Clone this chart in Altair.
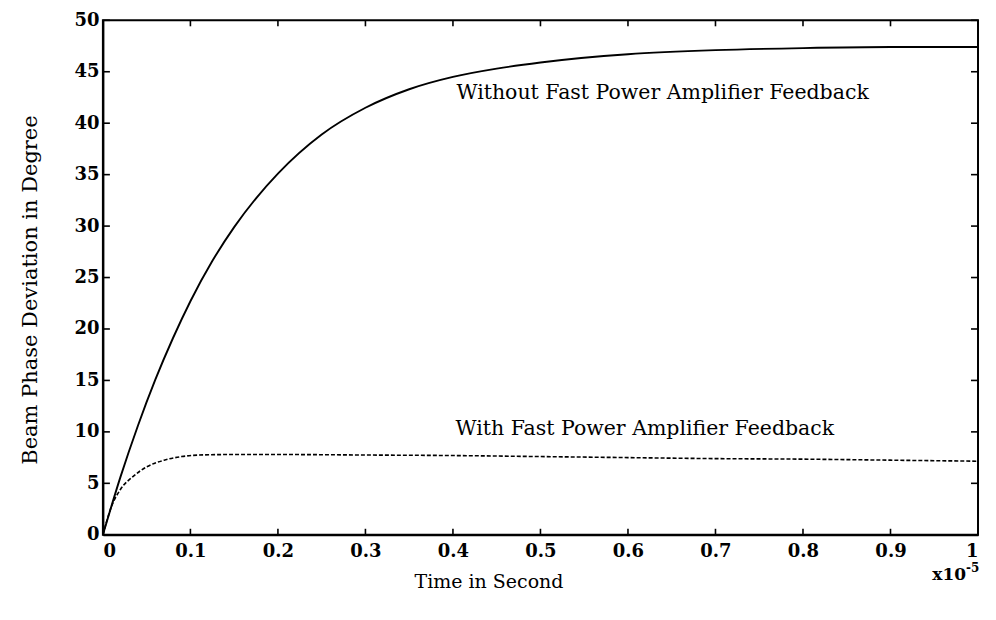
import altair as alt
import pandas as pd

# ---- data ----
t_without = [0, 0.02, 0.04, 0.06, 0.08, 0.10, 0.125, 0.15, 0.175, 0.20, 0.25, 0.30,
             0.35, 0.40, 0.45, 0.50, 0.60, 0.70, 0.80, 0.90, 1.00]
v_without = [0, 5.6, 10.6, 15.1, 19.1, 22.7, 26.6, 29.9, 32.7, 35.1, 38.9, 41.5,
             43.3, 44.5, 45.3, 45.9, 46.7, 47.1, 47.3, 47.4, 47.4]

t_with = [0, 0.01, 0.02, 0.035, 0.05, 0.07, 0.09, 0.11, 0.15, 0.20, 0.30, 0.40,
          0.50, 0.60, 0.70, 0.80, 0.90, 1.00]
v_with = [0, 2.8, 4.4, 5.7, 6.6, 7.25, 7.6, 7.75, 7.8, 7.8, 7.75, 7.7,
          7.6, 7.5, 7.4, 7.35, 7.25, 7.15]

x_ticks = [0, 0.1, 0.2, 0.3, 0.4, 0.5, 0.6, 0.7, 0.8, 0.9, 1.0]
y_ticks = [0, 5, 10, 15, 20, 25, 30, 35, 40, 45, 50]

ann_text = ["Without Fast Power Amplifier Feedback", "With Fast Power Amplifier Feedback"]
ann_t = [0.404, 0.403]
ann_v = [42.9, 10.3]

exp_base = ["x10"]
exp_power = ["-5"]

W, H = 876, 515
SERIF = "DejaVu Serif"

df_without = pd.DataFrame({"t": t_without, "v": v_without})
df_with = pd.DataFrame({"t": t_with, "v": v_with})
df_xt = pd.DataFrame({"t": x_ticks})
df_yt = pd.DataFrame({"v": y_ticks})
df_ann = pd.DataFrame({"t": ann_t, "v": ann_v, "label": ann_text})

xs = alt.Scale(domain=[0, 1], nice=False, zero=False)
ys = alt.Scale(domain=[0, 50], nice=False, zero=False)

X = alt.X("t:Q", scale=xs, axis=alt.Axis(
    values=x_ticks, format=".1~f", title="Time in Second", ticks=False, grid=False,
    domainColor="black", domainWidth=2, labelFont=SERIF, labelFontWeight="bold",
    labelFontSize=18, labelColor="black", labelPadding=8,
    titleFont=SERIF, titleFontWeight="normal", titleFontSize=19, titleColor="black",
    titleX=386, titleY=53, titleAnchor="start", titleAlign="center", titleBaseline="alphabetic"))
Y = alt.Y("v:Q", scale=ys, axis=alt.Axis(
    values=y_ticks, title="Beam Phase Deviation in Degree", ticks=False, grid=False,
    domainColor="black", domainWidth=2, labelFont=SERIF, labelFontWeight="bold",
    labelFontSize=18, labelColor="black", labelPadding=4,
    titleFont=SERIF, titleFontWeight="normal", titleFontSize=21, titleColor="black",
    titleX=-66, titleY=H / 2 + 12, titleAnchor="start", titleAlign="center", titleBaseline="alphabetic"))

line_without = alt.Chart(df_without).mark_line(color="black", strokeWidth=1.9, interpolate="monotone").encode(x=X, y=Y)
line_with = alt.Chart(df_with).mark_line(color="black", strokeWidth=1.6, strokeDash=[4, 2], interpolate="monotone").encode(x=X, y=Y)

tick_bottom = alt.Chart(df_xt).mark_rule(color="black", strokeWidth=1.6).encode(x=X, y=alt.value(H), y2=alt.value(H - 6))
tick_top = alt.Chart(df_xt).mark_rule(color="black", strokeWidth=1.6).encode(x=X, y=alt.value(0), y2=alt.value(6))
tick_left = alt.Chart(df_yt).mark_rule(color="black", strokeWidth=1.6).encode(y=Y, x=alt.value(0), x2=alt.value(7))
tick_right = alt.Chart(df_yt).mark_rule(color="black", strokeWidth=1.6).encode(y=Y, x=alt.value(W), x2=alt.value(W - 7))

ann = alt.Chart(df_ann).mark_text(font=SERIF, fontSize=20.5, color="black", align="left", baseline="middle").encode(
    x=X, y=Y, text="label:N")

exp1 = alt.Chart(pd.DataFrame({"label": exp_base})).mark_text(
    font=SERIF, fontSize=17, fontWeight="bold", color="black", align="right", baseline="alphabetic").encode(
    x=alt.value(W - 12), y=alt.value(H + 45), text="label:N")
exp2 = alt.Chart(pd.DataFrame({"label": exp_power})).mark_text(
    font=SERIF, fontSize=12, fontWeight="bold", color="black", align="left", baseline="alphabetic").encode(
    x=alt.value(W - 12), y=alt.value(H + 37), text="label:N")

chart = alt.layer(line_without, line_with, tick_bottom, tick_top, tick_left, tick_right, ann, exp1, exp2).properties(
    width=W, height=H,
    autosize=alt.AutoSizeParams(type="none"),
    padding={"left": 95, "top": 12, "right": 10, "bottom": 80},
    background="white",
).configure_view(stroke="black", strokeWidth=2)

chart.save("out.html", embed_options={"renderer": "svg", "actions": False})
